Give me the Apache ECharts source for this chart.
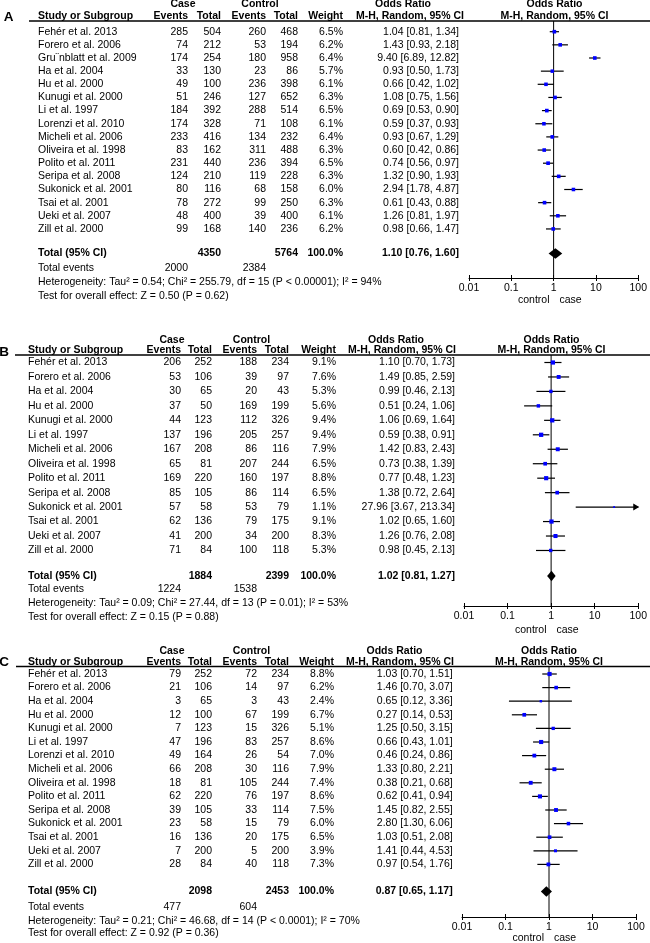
<!DOCTYPE html>
<html><head><meta charset="utf-8">
<script src="https://cdn.jsdelivr.net/npm/echarts@6/dist/echarts.min.js"></script>
<style>html,body{margin:0;padding:0;background:#fff}#c{width:650px;height:943px}</style>
</head><body><div id="c"></div>
<script>
// ---------------- data ----------------
const tickLabels = ['0.01', '0.1', '1', '10', '100'];

const studiesA = ['Fehér et al. 2013','Forero et al. 2006','Gru¨nblatt et al. 2009','Ha et al. 2004','Hu et al. 2000','Kunugi et al. 2000','Li et al. 1997','Lorenzi et al. 2010','Micheli et al. 2006','Oliveira et al. 1998','Polito et al. 2011','Seripa et al. 2008','Sukonick et al. 2001','Tsai et al. 2001','Ueki et al. 2007','Zill et al. 2000'];
const caseEventsA = [285,74,174,33,49,51,184,174,233,83,231,124,80,78,48,99];
const caseTotalA  = [504,212,254,130,100,246,392,328,416,162,440,210,116,272,400,168];
const ctrlEventsA = [260,53,180,23,236,127,288,71,134,311,236,119,68,99,39,140];
const ctrlTotalA  = [468,194,958,86,398,652,514,108,232,488,394,228,158,250,400,236];
const weightA = [6.5,6.2,6.4,5.7,6.1,6.3,6.5,6.1,6.4,6.3,6.5,6.3,6.0,6.3,6.1,6.2];
const orA = [1.04,1.43,9.40,0.93,0.66,1.08,0.69,0.59,0.93,0.60,0.74,1.32,2.94,0.61,1.26,0.98];
const loA = [0.81,0.93,6.89,0.50,0.42,0.75,0.53,0.37,0.67,0.42,0.56,0.90,1.78,0.43,0.81,0.66];
const hiA = [1.34,2.18,12.82,1.73,1.02,1.56,0.90,0.93,1.29,0.86,0.97,1.93,4.87,0.88,1.97,1.47];
const totalsA = [4350, 5764, 2000, 2384];   // case total, control total, case events, control events
const pooledA = [1.10, 0.76, 1.60];
const hetA = 'Heterogeneity: Tau² = 0.54; Chi² = 255.79, df = 15 (P < 0.00001); I² = 94%';
const testA = 'Test for overall effect: Z = 0.50 (P = 0.62)';

const studiesB = ['Fehér et al. 2013','Forero et al. 2006','Ha et al. 2004','Hu et al. 2000','Kunugi et al. 2000','Li et al. 1997','Micheli et al. 2006','Oliveira et al. 1998','Polito et al. 2011','Seripa et al. 2008','Sukonick et al. 2001','Tsai et al. 2001','Ueki et al. 2007','Zill et al. 2000'];
const caseEventsB = [206,53,30,37,44,137,167,65,169,85,57,62,41,71];
const caseTotalB  = [252,106,65,50,123,196,208,81,220,105,58,136,200,84];
const ctrlEventsB = [188,39,20,169,112,205,86,207,160,86,53,79,34,100];
const ctrlTotalB  = [234,97,43,199,326,257,116,244,197,114,79,175,200,118];
const weightB = [9.1,7.6,5.3,5.6,9.4,9.4,7.9,6.5,8.8,6.5,1.1,9.1,8.3,5.3];
const orB = [1.10,1.49,0.99,0.51,1.06,0.59,1.42,0.73,0.77,1.38,27.96,1.02,1.26,0.98];
const loB = [0.70,0.85,0.46,0.24,0.69,0.38,0.83,0.38,0.48,0.72,3.67,0.65,0.76,0.45];
const hiB = [1.73,2.59,2.13,1.06,1.64,0.91,2.43,1.39,1.23,2.64,213.34,1.60,2.08,2.13];
const totalsB = [1884, 2399, 1224, 1538];
const pooledB = [1.02, 0.81, 1.27];
const hetB = 'Heterogeneity: Tau² = 0.09; Chi² = 27.44, df = 13 (P = 0.01); I² = 53%';
const testB = 'Test for overall effect: Z = 0.15 (P = 0.88)';

const studiesC = ['Fehér et al. 2013','Forero et al. 2006','Ha et al. 2004','Hu et al. 2000','Kunugi et al. 2000','Li et al. 1997','Lorenzi et al. 2010','Micheli et al. 2006','Oliveira et al. 1998','Polito et al. 2011','Seripa et al. 2008','Sukonick et al. 2001','Tsai et al. 2001','Ueki et al. 2007','Zill et al. 2000'];
const caseEventsC = [79,21,3,12,7,47,49,66,18,62,39,23,16,7,28];
const caseTotalC  = [252,106,65,100,123,196,164,208,81,220,105,58,136,200,84];
const ctrlEventsC = [72,14,3,67,15,83,26,30,105,76,33,15,20,5,40];
const ctrlTotalC  = [234,97,43,199,326,257,54,116,244,197,114,79,175,200,118];
const weightC = [8.8,6.2,2.4,6.7,5.1,8.6,7.0,7.9,7.4,8.6,7.5,6.0,6.5,3.9,7.3];
const orC = [1.03,1.46,0.65,0.27,1.25,0.66,0.46,1.33,0.38,0.62,1.45,2.80,1.03,1.41,0.97];
const loC = [0.70,0.70,0.12,0.14,0.50,0.43,0.24,0.80,0.21,0.41,0.82,1.30,0.51,0.44,0.54];
const hiC = [1.51,3.07,3.36,0.53,3.15,1.01,0.86,2.21,0.68,0.94,2.55,6.06,2.08,4.53,1.76];
const totalsC = [2098, 2453, 477, 604];
const pooledC = [0.87, 0.65, 1.17];
const hetC = 'Heterogeneity: Tau² = 0.21; Chi² = 46.68, df = 14 (P < 0.0001); I² = 70%';
const testC = 'Test for overall effect: Z = 0.92 (P = 0.36)';

// ---------------- layout (pixels) ----------------
const layoutA = {letterX:8.5, letterY:17, nameX:38, ceX:188, ctX:221, keX:266, ktX:298, wX:343, orX:459,
  orHdrX:403, mhHdrX:410, caseHdrX:183, ctrlHdrX:260, plotL:469, plotR:640, lineL:29, lineY:21,
  caseY:4.5, hdrY:16.5, row0:31.7, dy:13.15, totalY:253.5, totEvY:268, hetY:282, testY:296, axisY:278, ccY:300};
const layoutB = {letterX:4, letterY:352, nameX:28, ceX:181, ctX:212, keX:257, ktX:289, wX:336, orX:455,
  orHdrX:396, mhHdrX:402, caseHdrX:172, ctrlHdrX:251.5, plotL:464, plotR:639, lineL:15, lineY:355,
  caseY:340, hdrY:350.5, row0:362.5, dy:14.46, totalY:576, totEvY:589, hetY:603, testY:617.5, axisY:606, ccY:630};
const layoutC = {letterX:4, letterY:662, nameX:28, ceX:181, ctX:212, keX:257, ktX:289, wX:334, orX:452.7,
  orHdrX:394.5, mhHdrX:400, caseHdrX:172, ctrlHdrX:251.5, plotL:462, plotR:636, lineL:16, lineY:666.5,
  caseY:651, hdrY:662, row0:674, dy:13.6, totalY:891.5, totEvY:907, hetY:921, testY:933.5, axisY:917, ccY:938};

const panels = [
  {letter:'A', L:layoutA, studies:studiesA, ce:caseEventsA, ct:caseTotalA, ke:ctrlEventsA, kt:ctrlTotalA, w:weightA, or:orA, lo:loA, hi:hiA, tot:totalsA, pooled:pooledA, het:hetA, test:testA},
  {letter:'B', L:layoutB, studies:studiesB, ce:caseEventsB, ct:caseTotalB, ke:ctrlEventsB, kt:ctrlTotalB, w:weightB, or:orB, lo:loB, hi:hiB, tot:totalsB, pooled:pooledB, het:hetB, test:testB},
  {letter:'C', L:layoutC, studies:studiesC, ce:caseEventsC, ct:caseTotalC, ke:ctrlEventsC, kt:ctrlTotalC, w:weightC, or:orC, lo:loC, hi:hiC, tot:totalsC, pooled:pooledC, het:hetC, test:testC}
];

const FONT = "'Liberation Sans', Arial, Helvetica, sans-serif";
const FS = 10.5;
const fmtCI = (o, l, h) => `${o.toFixed(2)} [${l.toFixed(2)}, ${h.toFixed(2)}]`;

const grids = [], xAxes = [], yAxes = [], series = [];

panels.forEach(P => {
  const L = P.L;
  const idx = py => (py - L.row0) / L.dy;
  const n = P.studies.length;
  const plotC = (L.plotL + L.plotR) / 2;

  // ---- table grid (x in pixel-like column units, y in row index) ----
  const tTop = Math.max(0, L.caseY - 12), tBot = Math.min(943, L.ccY + 5);
  const gT = grids.length;
  grids.push({left:0, width:650, top:tTop, height:tBot - tTop});
  const xT = xAxes.length;
  xAxes.push({gridIndex:gT, type:'value', min:0, max:650, show:false});
  const yT = yAxes.length;
  yAxes.push({gridIndex:gT, type:'value', min:idx(tTop), max:idx(tBot), inverse:true, show:false});

  const cells = [];
  const add = (x, y, text, align, bold, size) => cells.push({x, y, text: String(text), align, bold: !!bold, size: size || FS});
  add(L.letterX, idx(L.letterY), P.letter, 'center', true, 13.5);
  add(L.caseHdrX, idx(L.caseY), 'Case', 'center', true);
  add(L.ctrlHdrX, idx(L.caseY), 'Control', 'center', true);
  add(L.orHdrX, idx(L.caseY), 'Odds Ratio', 'center', true);
  add(plotC, idx(L.caseY), 'Odds Ratio', 'center', true);
  const hy = idx(L.hdrY);
  add(L.nameX, hy, 'Study or Subgroup', 'left', true);
  add(L.ceX, hy, 'Events', 'right', true);
  add(L.ctX, hy, 'Total', 'right', true);
  add(L.keX, hy, 'Events', 'right', true);
  add(L.ktX, hy, 'Total', 'right', true);
  add(L.wX, hy, 'Weight', 'right', true);
  add(L.mhHdrX, hy, 'M-H, Random, 95% CI', 'center', true);
  add(plotC, hy, 'M-H, Random, 95% CI', 'center', true);
  for (let i = 0; i < n; i++) {
    add(L.nameX, i, P.studies[i], 'left');
    add(L.ceX, i, P.ce[i], 'right');
    add(L.ctX, i, P.ct[i], 'right');
    add(L.keX, i, P.ke[i], 'right');
    add(L.ktX, i, P.kt[i], 'right');
    add(L.wX, i, P.w[i].toFixed(1) + '%', 'right');
    add(L.orX, i, fmtCI(P.or[i], P.lo[i], P.hi[i]), 'right');
  }
  const ty = idx(L.totalY);
  add(L.nameX, ty, 'Total (95% CI)', 'left', true);
  add(L.ctX, ty, P.tot[0], 'right', true);
  add(L.ktX, ty, P.tot[1], 'right', true);
  add(L.wX, ty, '100.0%', 'right', true);
  add(L.orX, ty, fmtCI(P.pooled[0], P.pooled[1], P.pooled[2]), 'right', true);
  const ey = idx(L.totEvY);
  add(L.nameX, ey, 'Total events', 'left');
  add(L.ceX, ey, P.tot[2], 'right');
  add(L.keX, ey, P.tot[3], 'right');
  add(L.nameX, idx(L.hetY), P.het, 'left');
  add(L.nameX, idx(L.testY), P.test, 'left');
  add(plotC - 5, idx(L.ccY), 'control', 'right');
  add(plotC + 5, idx(L.ccY), 'case', 'left');

  series.push({
    type:'custom', xAxisIndex:xT, yAxisIndex:yT, silent:true, clip:false,
    data: cells.map(c => [c.x, c.y]), encode:{x:0, y:1},
    renderItem: (params, api) => {
      const c = cells[params.dataIndex];
      const pt = api.coord([api.value(0), api.value(1)]);
      return {type:'text', x:pt[0], y:pt[1], style:{
        text:c.text, fill:'#000', font:(c.bold ? 'bold ' : '') + c.size + 'px ' + FONT,
        align:c.align, verticalAlign:'middle', textAlign:c.align, textVerticalAlign:'middle'}};
    }
  });
  // header rule
  series.push({
    type:'custom', xAxisIndex:xT, yAxisIndex:yT, silent:true, clip:false,
    data:[[L.lineL, idx(L.lineY), 650]], encode:{x:[0,2], y:1},
    renderItem: (params, api) => {
      const a = api.coord([api.value(0), api.value(1)]);
      const b = api.coord([api.value(2), api.value(1)]);
      return {type:'line', shape:{x1:a[0], y1:a[1], x2:b[0], y2:b[1]}, style:{stroke:'#000', lineWidth:1.3}};
    }
  });

  // ---- forest grid (log OR axis, same row index scale) ----
  const gF = grids.length;
  grids.push({left:L.plotL, width:L.plotR - L.plotL, top:L.lineY, height:L.axisY - L.lineY});
  const xF = xAxes.length;
  const labelFmt = v => tickLabels[Math.round(Math.log10(v)) + 2] || '';
  xAxes.push({gridIndex:gF, type:'log', logBase:10, min:0.01, max:100, position:'bottom',
    axisLine:{show:true, onZero:false, lineStyle:{color:'#000', width:1}},
    axisTick:{show:true, inside:false, length:3, lineStyle:{color:'#000', width:1}},
    axisLabel:{show:true, margin:5, color:'#000', fontSize:FS, fontFamily:FONT, formatter:labelFmt, showMinLabel:true, showMaxLabel:true},
    splitLine:{show:false}, minorTick:{show:false}});
  xAxes.push({gridIndex:gF, type:'log', logBase:10, min:0.01, max:100, position:'bottom',
    axisLine:{show:false, onZero:false},
    axisTick:{show:true, inside:true, length:3, lineStyle:{color:'#000', width:1}},
    axisLabel:{show:false}, splitLine:{show:false}});
  const yF = yAxes.length;
  yAxes.push({gridIndex:gF, type:'value', min:idx(L.lineY), max:idx(L.axisY), inverse:true, show:false});

  // reference line at OR = 1
  series.push({
    type:'custom', xAxisIndex:xF, yAxisIndex:yF, silent:true, clip:false,
    data:[[1, idx(L.lineY), idx(L.axisY)]], encode:{x:0, y:[1,2]},
    renderItem: (params, api) => {
      const a = api.coord([api.value(0), api.value(1)]);
      const b = api.coord([api.value(0), api.value(2)]);
      return {type:'line', shape:{x1:a[0], y1:a[1], x2:b[0], y2:b[1]}, style:{stroke:'#000', lineWidth:1}};
    }
  });
  // study CIs and squares
  series.push({
    type:'custom', xAxisIndex:xF, yAxisIndex:yF, silent:true, clip:false,
    data: P.or.map((o, i) => [o, P.lo[i], P.hi[i], i, P.w[i]]), encode:{x:[0,1,2], y:3},
    renderItem: (params, api) => {
      const o = api.value(0), lo = api.value(1), hi = api.value(2), i = api.value(3), w = api.value(4);
      const pl = api.coord([Math.max(lo, 0.01), i]);
      const ph = api.coord([Math.min(hi, 100), i]);
      const po = api.coord([o, i]);
      const s = 1.2 * Math.sqrt(w) + 0.6;
      const ch = [
        {type:'line', shape:{x1:pl[0], y1:pl[1], x2:ph[0], y2:ph[1]}, style:{stroke:'#000', lineWidth:1.2}},
        {type:'rect', shape:{x:po[0] - s/2, y:po[1] - s/2, width:s, height:s}, style:{fill:'#0000ff'}}
      ];
      if (hi > 100) ch.push({type:'polygon', shape:{points:[[ph[0]+1, ph[1]], [ph[0]-5, ph[1]-3.5], [ph[0]-5, ph[1]+3.5]]}, style:{fill:'#000'}});
      return {type:'group', children:ch};
    }
  });
  // pooled diamond
  series.push({
    type:'custom', xAxisIndex:xF, yAxisIndex:yF, silent:true, clip:false,
    data:[[P.pooled[0], P.pooled[1], P.pooled[2], idx(L.totalY)]], encode:{x:[0,1,2], y:3},
    renderItem: (params, api) => {
      const y = api.value(3);
      const c = api.coord([api.value(0), y]);
      const l = api.coord([api.value(1), y]);
      const r = api.coord([api.value(2), y]);
      const h = 5.3;
      return {type:'polygon', shape:{points:[[l[0], c[1]], [c[0], c[1]-h], [r[0], c[1]], [c[0], c[1]+h]]}, style:{fill:'#000'}};
    }
  });
});

const chart = echarts.init(document.getElementById('c'), null, {renderer:'canvas'});
chart.setOption({
  animation:false,
  backgroundColor:'#fff',
  grid:grids, xAxis:xAxes, yAxis:yAxes, series:series
});
</script>
</body></html>
